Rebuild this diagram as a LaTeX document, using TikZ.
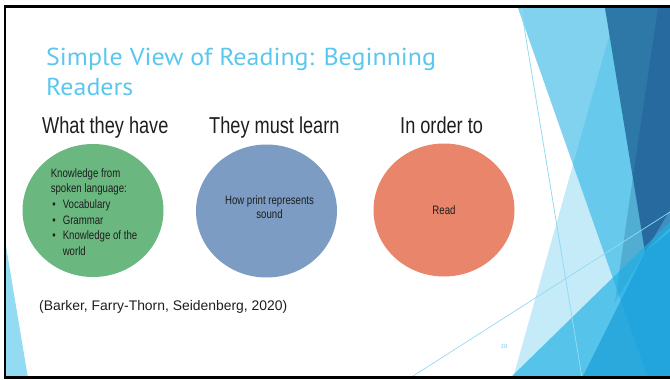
\documentclass[tikz,border=0pt]{standalone}
\usepackage{fontspec}
\setmainfont{Liberation Sans}
\newfontfamily\titlefont[FakeStretch=1.06]{PT Sans}
\newfontfamily\narrowfont[FakeStretch=0.79]{Liberation Sans}
\usetikzlibrary{shapes.geometric}
\definecolor{titleblue}{HTML}{5BC7EE}
\definecolor{ink}{HTML}{1E1E1E}
\definecolor{havegreen}{HTML}{6AB880}
\definecolor{learnblue}{HTML}{7C9CC4}
\definecolor{readorange}{HTML}{E8856A}
\definecolor{facetlight}{HTML}{1FB0E3}
\definecolor{facetdark}{HTML}{2E78A7}
\definecolor{facetdeep}{HTML}{21609B}
\definecolor{facetsea}{HTML}{1A9ED8}
\definecolor{facetline}{HTML}{93DAF3}

\begin{document}
\begin{tikzpicture}[
    x=1pt, y=-1pt,
    bubble/.style={
        ellipse,
        minimum width=141pt,
        minimum height=133pt,
        inner sep=0pt,
    },
    heading/.style={
        text=ink, anchor=base west, inner sep=0pt,
        font=\narrowfont\fontsize{23}{27}\selectfont,
    },
    bodytext/.style={
        text=ink,
        font=\narrowfont\fontsize{12.2}{15.7}\selectfont,
    },
    slidetitle/.style={
        text=titleblue, anchor=base west, inner sep=0pt,
        font=\titlefont\fontsize{24.5}{28}\selectfont,
    },
]
\useasboundingbox (0,0) rectangle (670,380);

% =============================================
% FACETS – translucent panels on the right
% =============================================
\begin{scope}
  \clip (5,8) rectangle (670,377);
  % Pale wide panel
  \fill[facetlight, opacity=0.26] (617,8) -- (720,8) -- (720,378) -- (513,378) -- cycle;
  % Light panel
  \fill[facetlight, opacity=0.57] (518,8) -- (720,8) -- (720,378) -- (648,378) -- cycle;
  % Dark wedge at the top
  \fill[facetdark] (605,8) -- (790,8) -- (645,252) -- cycle;
  \fill[facetdeep, opacity=0.55] (658,8) -- (720,8) -- (720,180) -- (645,252) -- (633,176) -- cycle;
  \fill[facetdark, opacity=0.35] (633,176) -- (645,252) -- (615,302) -- cycle;
  % Bright panel at the bottom
  \fill[facetlight, opacity=0.67] (510,378) -- (720,173) -- (720,378) -- cycle;
  \fill[facetsea, opacity=0.7] (582,378) -- (645,252) -- (720,190) -- (720,378) -- cycle;
  % Thin lines
  \draw[facetline, line width=0.8pt] (521,8) -- (582,378);
  \draw[facetline, line width=0.7pt] (410,378) -- (670,212);
  % Sliver on the left edge
  \fill[facetline] (5,240) -- (28,378) -- (5,378) -- cycle;
\end{scope}

% Slide frame
\draw[black, line width=2.4pt] (672,6.5) -- (5,6.5) -- (5,377.5) -- (672,377.5);

% =============================================
% TITLE
% =============================================
\node[slidetitle] (title) at (46,65) {Simple View of Reading: Beginning};
\node[slidetitle] (titlemore) at (46,95) {Readers};

% =============================================
% COLUMN HEADINGS
% =============================================
\node[heading] (haveh) at (42,133) {What they have};
\node[heading] (learnh) at (209,133) {They must learn};
\node[heading] (orderh) at (400,133) {In order to};

% =============================================
% BUBBLES
% =============================================
\node[bubble, fill=havegreen] (have) at (93,210.5) {};
\node[bubble, fill=learnblue] (learn) at (266.5,211) {};
\node[bubble, fill=readorange, bodytext] (read) at (444,210) {Read};

% Green bubble text
\node[bodytext, align=left] (havetext) at ([xshift=1pt, yshift=-1.5pt]have.center) {%
  Knowledge from\\
  spoken language:\\
  \makebox[12pt][l]{\hspace{1.5pt}\textbullet}Vocabulary\\
  \makebox[12pt][l]{\hspace{1.5pt}\textbullet}Grammar\\
  \makebox[12pt][l]{\hspace{1.5pt}\textbullet}Knowledge of the\\
  \hspace*{12pt}world%
};

% Blue bubble text
\node[bodytext, align=center, font=\narrowfont\fontsize{12.2}{14}\selectfont] (learntext) at ([xshift=3pt, yshift=4pt]learn.center) {%
  How print represents\\sound%
};

% =============================================
% SOURCE AND PAGE NUMBER
% =============================================
\node[text=ink, anchor=base west, inner sep=0pt, font=\fontsize{13.9}{16}\selectfont] (source) at (39,310) {(Barker, Farry-Thorn, Seidenberg, 2020)};
\node[text=titleblue, font=\titlefont\fontsize{5.5}{6}\selectfont] (pagenum) at (504,347) {20};

\end{tikzpicture}
\end{document}
